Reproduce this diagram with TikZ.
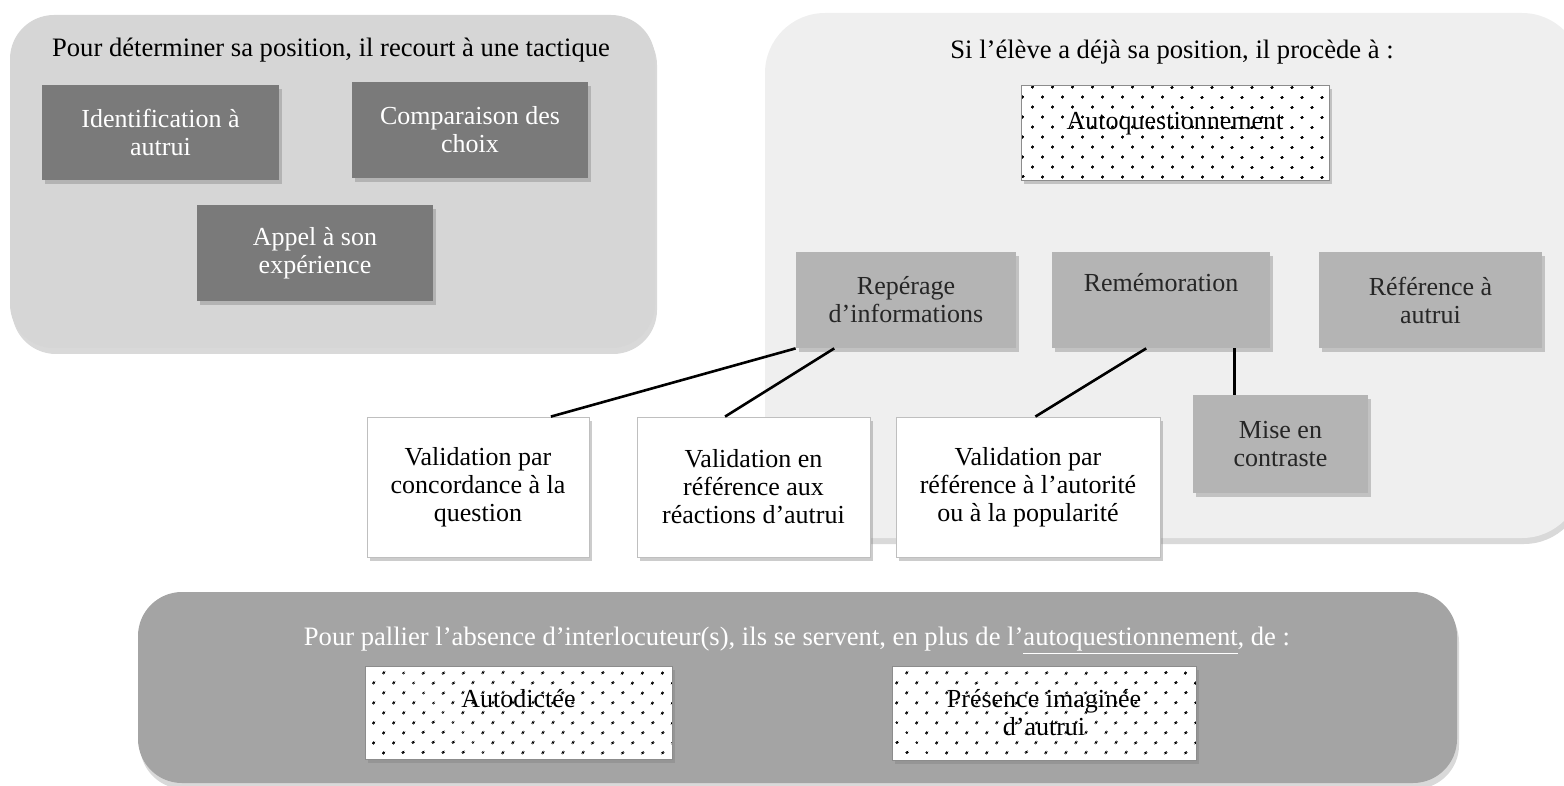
\documentclass[tikz,border=0pt]{standalone}
\usepackage{fontspec}
\setmainfont{Liberation Serif}
\usetikzlibrary{shadows,patterns.meta}
\definecolor{paneltactique}{HTML}{D6D6D6}
\definecolor{panelprocede}{HTML}{EFEFEF}
\definecolor{panelpallier}{HTML}{A4A4A4}
\definecolor{boxdark}{HTML}{7A7A7A}
\definecolor{boxmid}{HTML}{B4B4B4}

\begin{document}
\begin{tikzpicture}[x=0.5pt,y=-0.5pt,
  every node/.style={font=\fontsize{13}{14}\selectfont,align=center,inner sep=0pt},
  titre/.style={font=\fontsize{13.3}{15}\selectfont},
  shade/.style={drop shadow={shadow xshift=1.5pt,shadow yshift=-2pt,opacity=.4}},
  panel/.style={rounded corners=22pt,drop shadow={shadow xshift=1pt,shadow yshift=-3pt,opacity=.3}},
  darkbox/.style={shade,fill=boxdark,text=white},
  midbox/.style={shade,fill=boxmid,text=black!85},
  whitebox/.style={shade,fill=white,draw=black!25,line width=.4pt,minimum height=70pt},
  dotbox/.style={shade,preaction={fill=white},pattern={Dots[distance=7.4pt,radius=.75pt,angle=45]},pattern color=black,draw=black!45,line width=.4pt},
  link/.style={line width=1.3pt}]
\useasboundingbox (0,0) rectangle (1564,786);
% panels
\fill[paneltactique,panel] (10,15) rectangle (655,348);
\fill[panelprocede,panel,rounded corners=30pt] (765,13) rectangle (1582,538);
\fill[panelpallier,panel] (138,592) rectangle (1457,783);
% gauche
\node[titre] (tactique) at (331,50) {Pour déterminer sa position, il recourt à une tactique};
\node[darkbox,minimum width=118.5pt,minimum height=47.5pt] (ident) at (160.5,132.5) {Identification à\\autrui};
\node[darkbox,minimum width=118pt,minimum height=48pt] (compar) at (470,130) {Comparaison des\\choix};
\node[darkbox,minimum width=118pt,minimum height=48pt] (appel) at (315,253) {Appel à son\\expérience};
% droite
\node[titre] (procede) at (1172,52) {Si l'élève a déjà sa position, il procède à :};
\node[dotbox,minimum width=154pt,minimum height=47.5pt,text height=9pt,text depth=11.5pt] (autoq) at (1175,132.5) {Autoquestionnement};
\node[midbox,minimum width=110pt,minimum height=48pt] (rep) at (906,300) {Repérage\\d'informations};
\node[midbox,minimum width=109pt,minimum height=48pt,text height=9pt,text depth=17pt] (remem) at (1161,300) {Remémoration};
\node[midbox,minimum width=111.5pt,minimum height=48pt] (refautrui) at (1430.5,300) {Référence à\\autrui};
\node[midbox,minimum width=87.5pt,minimum height=49pt] (mise) at (1280.5,444) {Mise en\\contraste};
\node[whitebox,minimum width=111pt] (concord) at (478,487) {Validation par\\concordance à la\\question};
\node[whitebox,minimum width=116.5pt] (reactions) at (753.5,487) {Validation en\\référence aux\\réactions d'autrui};
\node[whitebox,minimum width=132pt] (autorite) at (1028,487) {Validation par\\référence à l'autorité\\ou à la popularité};
\draw[link] (rep.south west) -- (concord.44);
\draw[link] (rep.214) -- (reactions.112);
\draw[link] (remem.253) -- (autorite.84);
\draw[link] (mise.133) -- (mise.133 |- remem.south);
% bas
\node[titre,text=white] (pallier) at (797,641) {Pour pallier l'absence d'interlocuteur(s), ils se servent, en plus de l'\underline{autoquestionnement}, de :};
\node[dotbox,minimum width=153.5pt,minimum height=46.5pt,text height=9pt,text depth=14.5pt] (autodict) at (518.5,712.5) {Autodictée};
\node[dotbox,minimum width=152pt,minimum height=47pt] (presence) at (1044,713) {Présence imaginée\\d'autrui};
%\node at (780,5) {};
\end{tikzpicture}
\end{document}
